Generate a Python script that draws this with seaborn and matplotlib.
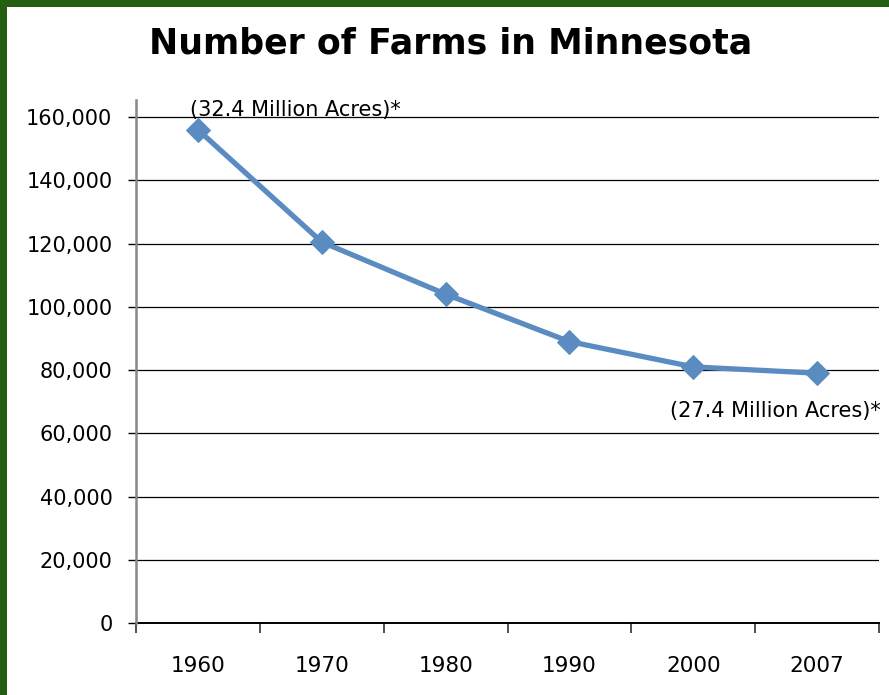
import matplotlib
matplotlib.use("Agg")
import matplotlib.pyplot as plt
import seaborn as sns
import pandas as pd
from matplotlib.ticker import FuncFormatter, FixedLocator

years = ["1960", "1970", "1980", "1990", "2000", "2007"]
farms = [156000, 120500, 104000, 89000, 81000, 79000]
y_ticks = [0, 20000, 40000, 60000, 80000, 100000, 120000, 140000, 160000]
note_first = "(32.4 Million Acres)*"
note_last = "(27.4 Million Acres)*"
title = "Number of Farms in Minnesota"

sns.set_theme(style="white")
plt.rcParams['font.family'] = ['DejaVu Sans']

df = pd.DataFrame({"year": years, "farms": farms})

fig = plt.figure(figsize=(8.89, 6.95), dpi=100)
fig.patch.set_facecolor("#245e12")
bg = fig.add_axes([7/889, 0, 1 - 7/889, 1 - 7/695], zorder=-10)
bg.set_facecolor("white")
bg.set_xticks([]); bg.set_yticks([])
for s in bg.spines.values():
    s.set_visible(False)

ax = fig.add_axes([136/889, 1 - 623/695, (879 - 136)/889, (623 - 100)/695], zorder=1)
ax.set_facecolor("white")

sns.lineplot(data=df, x="year", y="farms", ax=ax, color="#5b8cc1", linewidth=3.8,
             marker="D", markersize=12, markeredgecolor="#5b8cc1", sort=False, zorder=3)

ax.set_xlim(-0.5, len(years) - 0.5)
ax.set_ylim(0, 165400)
ax.yaxis.set_major_locator(FixedLocator(y_ticks))
ax.yaxis.set_major_formatter(FuncFormatter(lambda v, p: f"{int(v):,}"))
ax.yaxis.grid(True, color="black", linewidth=0.9)
ax.xaxis.grid(False)
ax.set_axisbelow(True)

ax.set_xticks(range(len(years)))
ax.set_xticklabels(years)
ax.set_xticks([i - 0.5 for i in range(len(years) + 1)], minor=True)
ax.tick_params(axis="x", which="major", length=0, pad=24, labelsize=15.5, labelcolor="black")
ax.tick_params(axis="x", which="minor", length=7, width=1.2, color="#333333", direction="out", bottom=True)
ax.tick_params(axis="y", which="major", length=6, width=1.0, color="black", direction="out",
               left=True, pad=11, labelsize=15, labelcolor="black")

for s in ["top", "right"]:
    ax.spines[s].set_visible(False)
ax.spines["left"].set_color("#888888")
ax.spines["left"].set_linewidth(1.8)
ax.spines["bottom"].set_color("black")
ax.spines["bottom"].set_linewidth(1.4)
ax.spines["bottom"].set_zorder(2)

ax.set_xlabel("")
ax.set_ylabel("")

ax.annotate(note_first, xy=(0, farms[0]), xytext=(-6, 7), textcoords="offset points",
            ha="left", va="bottom", fontsize=15, color="black")
ax.annotate(note_last, xy=(len(years) - 1, farms[-1]), xytext=(-106, -20), textcoords="offset points",
            ha="left", va="top", fontsize=15, color="black", annotation_clip=False)

fig.text(451/889, 1 - 43/695, title, ha="center", va="center", fontsize=25, fontweight="bold", color="black")

fig.savefig("out.png", dpi=100, facecolor=fig.get_facecolor())
